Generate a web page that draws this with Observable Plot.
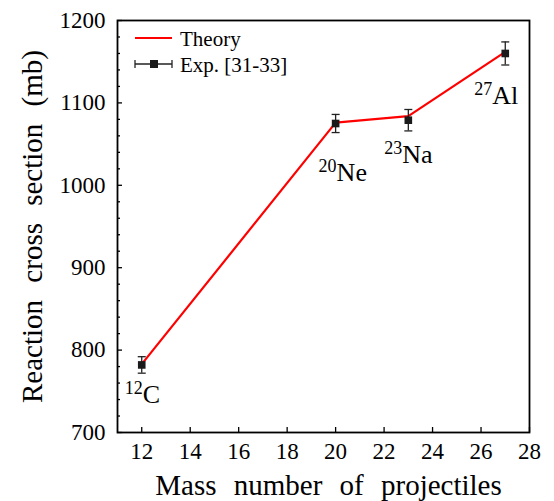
<!DOCTYPE html>
<html>
<head>
<meta charset="utf-8">
<script src="https://cdn.jsdelivr.net/npm/d3@7"></script>
<script src="https://cdn.jsdelivr.net/npm/@observablehq/plot@0.6"></script>
<style>
  html, body { margin: 0; padding: 0; background: #fff; }
  svg, svg text, svg tspan { font-family: "Liberation Serif", serif !important; }
</style>
</head>
<body>
<div id="chart"></div>
<script>
const mass = [12, 20, 23, 27];
const theory = [783, 1076, 1084, 1162];
const expValue = [782, 1075, 1079, 1160];
const expErr = [10, 11, 13, 14];
const isotopeNumber = ["12", "20", "23", "27"];
const isotopeSymbol = ["C", "Ne", "Na", "Al"];
const xTicks = [12, 14, 16, 18, 20, 22, 24, 26, 28];
const yTicks = [700, 800, 900, 1000, 1100, 1200];
const yMinorTicks = d3.range(700, 1201, 20).filter(v => v % 100 !== 0);
const xLabel = "Mass number of projectiles";
const yLabel = "Reaction cross section (mb)";
const legendLabels = ["Theory", "Exp. [31-33]"];

const FONT = "Liberation Serif";

const rows = mass.map((m, i) => ({
  mass: m, theory: theory[i], exp: expValue[i], err: expErr[i],
  num: isotopeNumber[i], sym: isotopeSymbol[i]
}));

const capSymbol = {
  draw(ctx, size) {
    const w = Math.sqrt(size / Math.PI);
    ctx.moveTo(-w, 0);
    ctx.lineTo(w, 0);
  }
};

// per-label pixel offsets from the experimental point
const labelOffsets = [[1, 38], [1, 57], [-6, 43], [-13, 51]];

const labelMarks = rows.flatMap((r, i) => [
  Plot.text([r], {x: "mass", y: "exp", text: "num", dx: labelOffsets[i][0], dy: labelOffsets[i][1] - 9,
    textAnchor: "end", lineAnchor: "bottom", fontSize: 18, fontFamily: FONT, fill: "black"}),
  Plot.text([r], {x: "mass", y: "exp", text: "sym", dx: labelOffsets[i][0], dy: labelOffsets[i][1],
    textAnchor: "start", lineAnchor: "bottom", fontSize: 26, fontFamily: FONT, fill: "black"})
]);

const fmt = d => String(d);

const chart = Plot.plot({
  width: 554,
  height: 501,
  marginLeft: 117,
  marginRight: 25,
  marginTop: 20,
  marginBottom: 69,
  style: {fontFamily: FONT, fontSize: "22px", color: "black", background: "white"},
  x: {domain: [11, 28]},
  y: {domain: [700, 1200]},
  marks: [
    Plot.axisX(xTicks, {tickSize: 0, tickPadding: 10, fontSize: 23, fontFamily: FONT, fontVariant: "normal", label: null, tickFormat: fmt}),
    Plot.axisX(xTicks, {tickSize: -5, tickFormat: () => "", label: null, strokeWidth: 1.3}),
    Plot.axisY(yTicks, {tickSize: 0, tickPadding: 12, fontSize: 23, fontFamily: FONT, fontVariant: "normal", label: null, tickFormat: fmt}),
    Plot.axisY(yTicks, {tickSize: -5, tickFormat: () => "", label: null, strokeWidth: 1.3}),
    Plot.axisY(yMinorTicks, {tickSize: -3, tickFormat: () => "", label: null, strokeWidth: 1.3}),
    Plot.line(rows, {x: "mass", y: "theory", stroke: "#ff0000", strokeWidth: 2.2}),
    Plot.ruleX(rows, {x: "mass", y1: d => d.exp - d.err, y2: d => d.exp + d.err, stroke: "#222", strokeWidth: 1.3}),
    Plot.dot(rows, {x: "mass", y: d => d.exp - d.err, symbol: capSymbol, r: 4, stroke: "#222", strokeWidth: 1.3}),
    Plot.dot(rows, {x: "mass", y: d => d.exp + d.err, symbol: capSymbol, r: 4, stroke: "#222", strokeWidth: 1.3}),
    Plot.dot(rows, {x: "mass", y: "exp", symbol: "square", r: 4.3, fill: "#1a1a1a", stroke: null}),
    ...labelMarks,
    Plot.text([xLabel], {frameAnchor: "bottom", dx: 5, dy: 53, fontSize: 29, fontFamily: FONT, fill: "black", textAnchor: "middle", lineAnchor: "middle"}),
    Plot.text([yLabel], {frameAnchor: "left", dx: -85, rotate: -90, fontSize: 29, fontFamily: FONT, fill: "black", textAnchor: "middle", lineAnchor: "middle"}),
    Plot.frame({stroke: "black", strokeWidth: 1.8})
  ]
});

const svg = d3.select(chart);
svg.selectAll("text")
  .filter(function() { return this.textContent === xLabel || this.textContent === yLabel; })
  .style("word-spacing", "10px");

// legend overlay
const lg = svg.append("g").attr("font-size", 21).attr("font-family", FONT).attr("text-anchor", "start");
lg.append("line").attr("x1", 135).attr("x2", 172).attr("y1", 38).attr("y2", 38).attr("stroke", "#ff0000").attr("stroke-width", 2.2);
lg.append("text").attr("x", 180).attr("y", 46).text(legendLabels[0]);
lg.append("line").attr("x1", 135).attr("x2", 172).attr("y1", 64).attr("y2", 64).attr("stroke", "#222").attr("stroke-width", 1.3);
lg.append("line").attr("x1", 135).attr("x2", 135).attr("y1", 60).attr("y2", 68).attr("stroke", "#222").attr("stroke-width", 1.3);
lg.append("line").attr("x1", 172).attr("x2", 172).attr("y1", 60).attr("y2", 68).attr("stroke", "#222").attr("stroke-width", 1.3);
lg.append("rect").attr("x", 150).attr("y", 60).attr("width", 8).attr("height", 8).attr("fill", "#1a1a1a");
lg.append("text").attr("x", 180).attr("y", 72).text(legendLabels[1]);

document.getElementById("chart").appendChild(chart);
</script>
</body>
</html>
